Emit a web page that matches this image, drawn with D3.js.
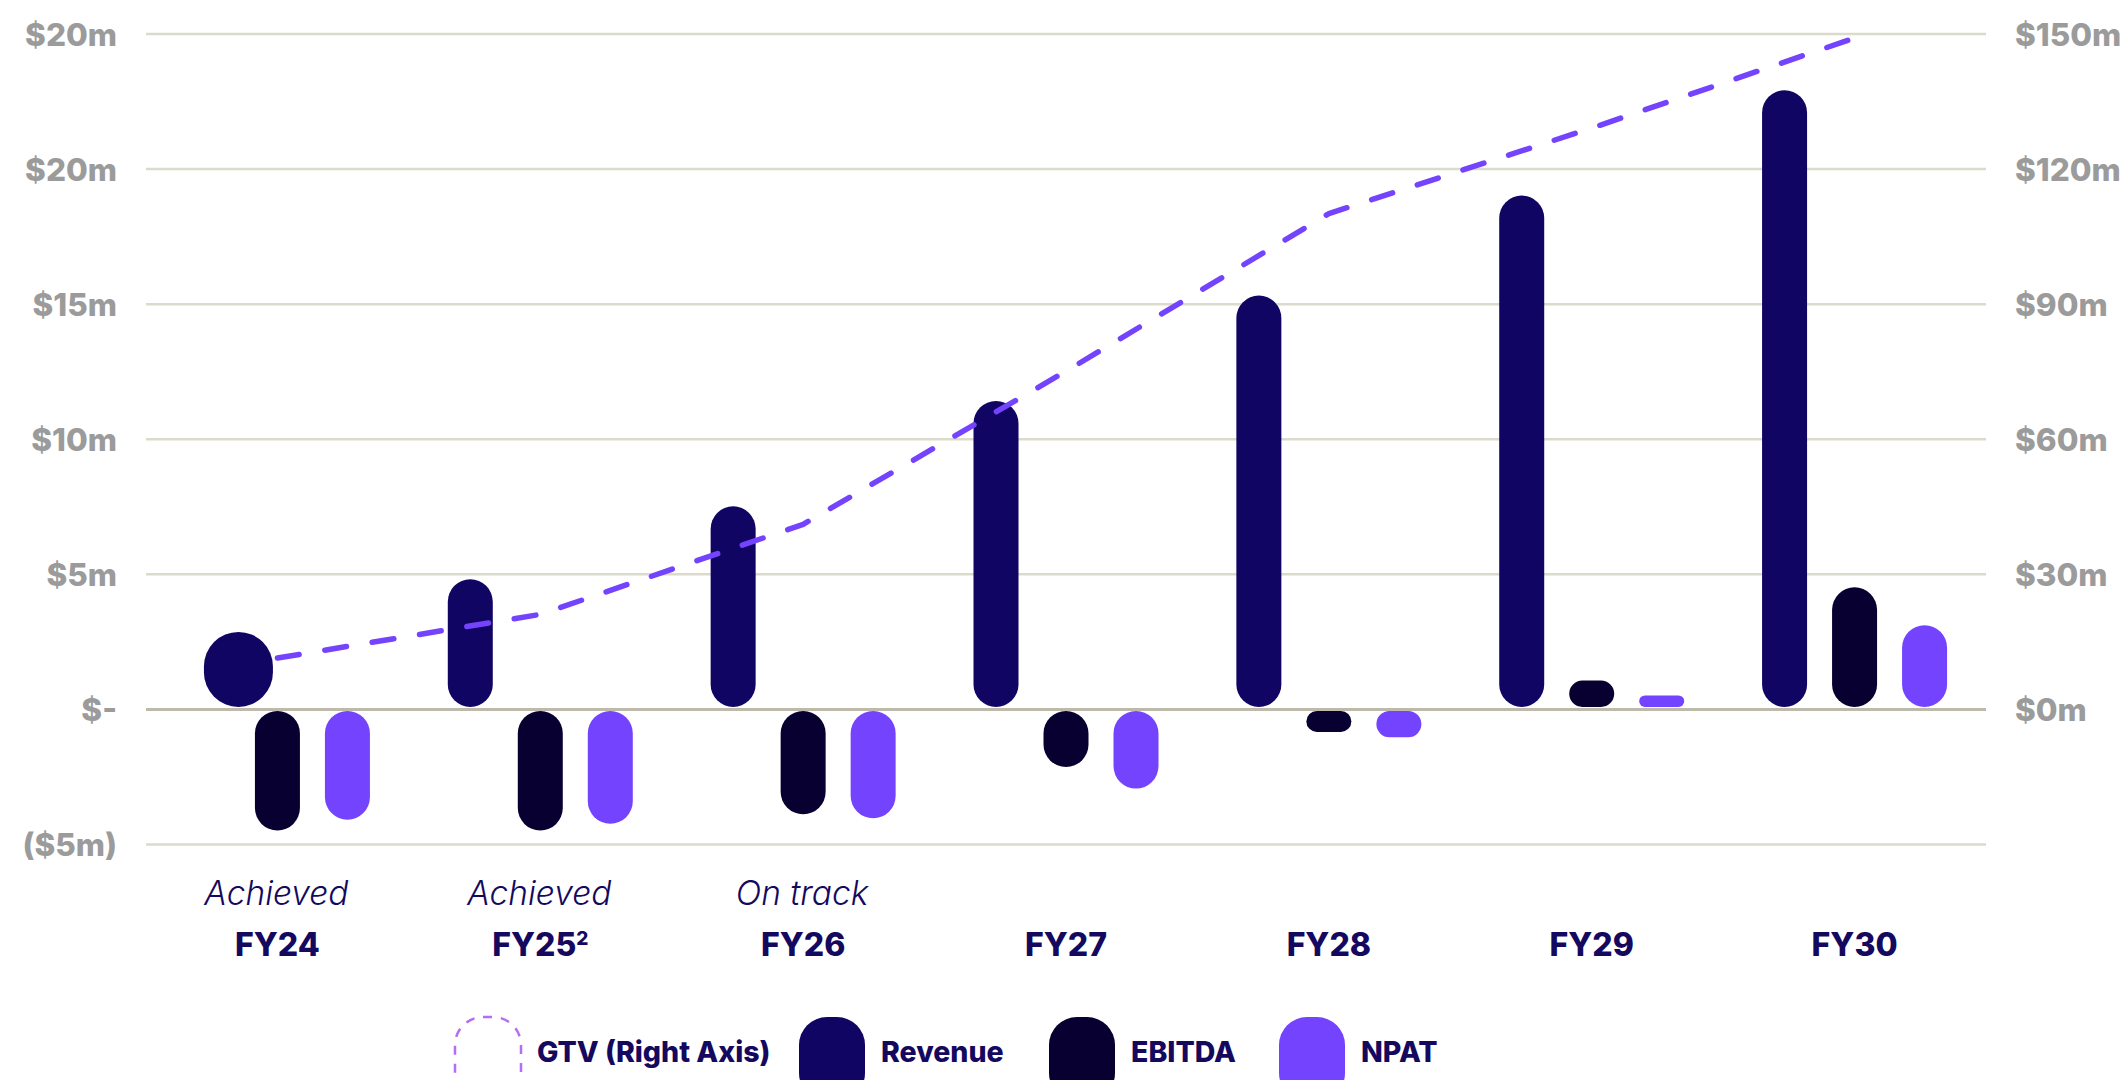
<!DOCTYPE html>
<html>
<head>
<meta charset="utf-8">
<script src="https://cdn.jsdelivr.net/npm/d3@7"></script>
<style>
  html, body { margin: 0; padding: 0; background: #ffffff; }
  svg { display: block; }
</style>
</head>
<body>
<svg id="chart" width="2126" height="1080"></svg>
<script>
// ---- data ----
const categories = ["FY24", "FY25", "FY26", "FY27", "FY28", "FY29", "FY30"];
const statuses   = ["Achieved", "Achieved", "On track", "", "", "", ""];
const revenue    = [2.85, 4.8, 7.5, 11.4, 15.3, 19.0, 22.9];
const ebitda     = [-4.5, -4.5, -3.9, -2.15, -0.85, 1.05, 4.5];
const npat       = [-4.1, -4.25, -4.05, -2.95, -1.05, 0.5, 3.1];
const gtv        = [11.3, 21, 41, 75, 110, 129, 149];
const leftTicks  = [-5, 0, 5, 10, 15, 20, 25];
const leftLabels = ["($5m)", "$-", "$5m", "$10m", "$15m", "$20m", "$20m"];
const rightTicks = [0, 30, 60, 90, 120, 150];
const rightLabels= ["$0m", "$30m", "$60m", "$90m", "$120m", "$150m"];
const seriesNames = ["Revenue", "EBITDA", "NPAT"];

// ---- styles ----
const colors = { Revenue: "#100563", EBITDA: "#070030", NPAT: "#7443fe", GTV: "#7443fe" };
const navy = "#14095e";
const grey = "#9b9b9b";

const svg = d3.select("#chart");
const plot = { left: 146, right: 1986, top: 33.5, bottom: 844 };

const x = d3.scaleBand().domain(categories).range([plot.left, plot.right]).padding(0);
const sub = d3.scalePoint().domain(seriesNames).range([-70, 70]);
const yL = d3.scaleLinear().domain([-5, 25]).range([plot.bottom, plot.top]);
const yR = d3.scaleLinear().domain([-30, 150]).range([plot.bottom, plot.top]);
const cx = c => x(c) + x.bandwidth() / 2;

// ---- gridlines + left axis ----
const axL = d3.axisLeft(yL).tickValues(leftTicks)
  .tickFormat((d, i) => leftLabels[i])
  .tickSize(-(plot.right - plot.left)).tickPadding(29);
const gL = svg.append("g").attr("transform", `translate(${plot.left},0)`).call(axL);
gL.select(".domain").remove();
gL.selectAll(".tick line").attr("stroke", d => d === 0 ? "#bdbaab" : "#dcdacb")
  .attr("stroke-width", d => d === 0 ? 3 : 2.5);
gL.selectAll(".tick text").attr("fill", grey).attr("font-family", "Inter, sans-serif")
  .attr("font-weight", 800).attr("font-size", 31.5).attr("dy", "0.38em");

// ---- right axis ----
const axR = d3.axisRight(yR).tickValues(rightTicks)
  .tickFormat((d, i) => rightLabels[i]).tickSize(0).tickPadding(29);
const gR = svg.append("g").attr("transform", `translate(${plot.right},0)`).call(axR);
gR.select(".domain").remove();
gR.selectAll(".tick text").attr("fill", grey).attr("font-family", "Inter, sans-serif")
  .attr("font-weight", 800).attr("font-size", 31.5).attr("dy", "0.38em");

// ---- bars ----
const barW = 45, gap = 2;
const seriesVals = { Revenue: revenue, EBITDA: ebitda, NPAT: npat };
const bars = [];
seriesNames.forEach(s => {
  categories.forEach((c, i) => bars.push({ s, c, i, v: seriesVals[s][i] }));
});
svg.append("g").selectAll("rect").data(bars).join("rect")
  .each(function(d) {
    const y0 = yL(0), y1 = yL(d.v);
    let top = d.v >= 0 ? y1 : y0 + gap;
    let bot = d.v >= 0 ? y0 - gap : y1;
    let w = barW;
    let center = cx(d.c) + sub(d.s);
    // FY24 revenue is drawn as a wider rounded blob in the original
    if (d.s === "Revenue" && d.i === 0) { w = 69; center = cx(d.c) - 39; }
    const h = Math.max(0, bot - top);
    const r = Math.min(w / 2, h / 2);
    d3.select(this).attr("x", center - w / 2).attr("y", top)
      .attr("width", w).attr("height", h).attr("rx", r).attr("ry", r)
      .attr("fill", colors[d.s]);
  });

// ---- GTV line ----
const line = d3.line().x((d, i) => cx(categories[i])).y(d => yR(d)).curve(d3.curveLinear);
svg.append("path").datum(gtv).attr("d", line)
  .attr("fill", "none").attr("stroke", colors.GTV).attr("stroke-width", 5.5)
  .attr("stroke-linecap", "round").attr("stroke-linejoin", "round")
  .attr("stroke-dasharray", "22 26");

// ---- category labels ----
const gx = svg.append("g");
gx.selectAll("text.status").data(categories).join("text").attr("class", "status")
  .attr("x", c => cx(c) - 1).attr("y", 905).attr("text-anchor", "middle")
  .attr("font-family", "Inter, sans-serif").attr("font-style", "italic").attr("font-weight", 300)
  .attr("font-size", 33.5).attr("fill", navy)
  .text((c, i) => statuses[i]);
const cat = gx.selectAll("text.cat").data(categories).join("text").attr("class", "cat")
  .attr("x", c => cx(c)).attr("y", 956).attr("text-anchor", "middle")
  .attr("font-family", "Inter, sans-serif").attr("font-weight", 800)
  .attr("font-size", 32).attr("fill", navy);
cat.each(function(c) {
  const t = d3.select(this);
  t.append("tspan").text(c);
  if (c === "FY25") t.append("tspan").attr("font-size", 19).attr("dy", -11).text("2");
});

// ---- legend ----
const legendItems = [
  { name: "GTV (Right Axis)", key: "GTV", x: 455 },
  { name: "Revenue", key: "Revenue", x: 799 },
  { name: "EBITDA", key: "EBITDA", x: 1049 },
  { name: "NPAT", key: "NPAT", x: 1279 }
];
const lg = svg.append("g").selectAll("g").data(legendItems).join("g")
  .attr("transform", d => `translate(${d.x},1017)`);
lg.append("rect").attr("width", 66).attr("height", 84).attr("rx", 28).attr("ry", 28)
  .attr("fill", d => d.key === "GTV" ? "none" : colors[d.key])
  .attr("stroke", d => d.key === "GTV" ? "#b86cf0" : "none")
  .attr("stroke-width", 2.5)
  .attr("stroke-dasharray", d => d.key === "GTV" ? "9 9" : null);
lg.append("text").attr("x", 82).attr("y", 35).attr("dy", "0.36em")
  .attr("font-family", "Inter, sans-serif").attr("font-weight", 800).attr("font-size", 28.5)
  .attr("fill", navy).text(d => d.name);
</script>
</body>
</html>
